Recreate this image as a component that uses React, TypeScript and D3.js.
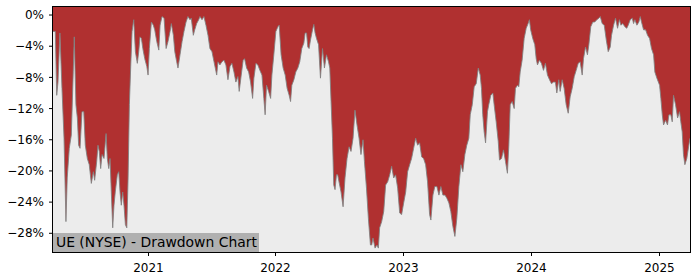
import React from "react";
import * as d3 from "d3";

// Dates as decimal years, drawdown in percent
const dates2020 = [
  2020.262, 2020.280, 2020.291, 2020.301, 2020.316, 2020.332, 2020.348, 2020.363, 2020.373, 2020.389,
  2020.405, 2020.420, 2020.428, 2020.441, 2020.452, 2020.462, 2020.473, 2020.488, 2020.502, 2020.514,
  2020.530, 2020.545, 2020.561, 2020.577, 2020.587, 2020.603, 2020.613, 2020.623, 2020.634, 2020.645,
  2020.660, 2020.676, 2020.686, 2020.697, 2020.707, 2020.717, 2020.728, 2020.738, 2020.748, 2020.764,
  2020.775, 2020.785, 2020.795, 2020.806, 2020.816, 2020.827, 2020.838, 2020.848, 2020.858, 2020.869,
  2020.879, 2020.892, 2020.905, 2020.920, 2020.931, 2020.941, 2020.952, 2020.963, 2020.978, 2020.994,
];
const dd2020 = [
  -2.1, -2.1, -10.3, -8.6, -2.3, -9.4, -15.8, -26.5, -20.9, -17.1,
  -15.4, -7.3, -2.8, -11.5, -13.2, -16.7, -17.1, -12.4, -12.4, -16.7,
  -18.4, -19.2, -21.6, -20.1, -21.2, -18.8, -16.7, -17.5, -19.7, -17.9,
  -18.4, -15.2, -18.4, -19.7, -18.4, -22.7, -27.3, -24.4, -22.7, -20.5,
  -20.1, -22.7, -24.4, -22.7, -24.4, -26.9, -27.3, -20.9, -11.5, -6.4,
  -2.1, -0.6, -4.7, -6.2, -4.7, -2.8, -3.0, -4.3, -5.6, -6.6,
];

const dates2021 = [
  2021.004, 2021.014, 2021.030, 2021.045, 2021.056, 2021.072, 2021.088, 2021.098, 2021.113, 2021.129,
  2021.145, 2021.160, 2021.176, 2021.186, 2021.202, 2021.213, 2021.228, 2021.238, 2021.254, 2021.270,
  2021.285, 2021.301, 2021.316, 2021.332, 2021.342, 2021.358, 2021.369, 2021.384, 2021.400, 2021.410,
  2021.426, 2021.441, 2021.457, 2021.473, 2021.488, 2021.504, 2021.520, 2021.530, 2021.541, 2021.551,
  2021.566, 2021.582, 2021.598, 2021.613, 2021.629, 2021.645, 2021.660, 2021.676, 2021.691, 2021.707,
  2021.717, 2021.733, 2021.748, 2021.759, 2021.775, 2021.791, 2021.806, 2021.822, 2021.832, 2021.848,
  2021.863, 2021.879, 2021.895, 2021.910, 2021.920, 2021.931, 2021.947, 2021.963, 2021.973, 2021.988,
];
const dd2021 = [
  -7.7, -4.3, -0.9, -1.3, -1.9, -3.4, -4.5, -1.3, -0.2, -0.4,
  -4.3, -3.4, -2.1, -1.1, -2.6, -4.7, -6.0, -6.8, -5.1, -3.4,
  -2.1, -0.9, -0.2, -0.6, -0.4, -2.6, -1.9, -1.1, -0.6, -0.2,
  -0.6, -0.2, -1.3, -2.6, -4.3, -4.7, -6.0, -6.8, -7.7, -6.0,
  -6.4, -6.0, -5.8, -6.4, -8.3, -6.6, -6.2, -7.3, -8.6, -7.9,
  -9.8, -7.7, -5.8, -5.6, -6.8, -7.3, -8.6, -10.7, -8.1, -6.2,
  -6.4, -7.1, -7.7, -10.7, -12.8, -9.0, -9.8, -10.7, -7.7, -5.1,
];

const dates2022 = [
  2022.004, 2022.020, 2022.030, 2022.045, 2022.061, 2022.077, 2022.092, 2022.108, 2022.119, 2022.129,
  2022.145, 2022.160, 2022.176, 2022.191, 2022.207, 2022.223, 2022.233, 2022.244, 2022.254, 2022.264,
  2022.275, 2022.291, 2022.301, 2022.311, 2022.322, 2022.338, 2022.353, 2022.369, 2022.384, 2022.400,
  2022.416, 2022.426, 2022.436, 2022.447, 2022.457, 2022.467, 2022.478, 2022.488, 2022.498, 2022.514,
  2022.530, 2022.545, 2022.561, 2022.577, 2022.592, 2022.608, 2022.623, 2022.639, 2022.655, 2022.670,
  2022.686, 2022.697, 2022.713, 2022.728, 2022.744, 2022.754, 2022.764, 2022.780, 2022.795, 2022.806,
  2022.816, 2022.832, 2022.848, 2022.863, 2022.879, 2022.895, 2022.910, 2022.926, 2022.941, 2022.957,
  2022.973, 2022.988,
];
const dd2022 = [
  -2.1, -1.5, -1.3, -5.1, -6.8, -7.7, -9.4, -10.3, -11.1, -9.0,
  -8.3, -7.3, -6.8, -6.0, -4.3, -3.6, -2.3, -2.3, -4.1, -4.3,
  -3.2, -1.9, -1.2, -2.3, -3.0, -3.8, -8.1, -4.3, -6.8, -5.1,
  -6.0, -6.8, -11.1, -15.8, -21.8, -22.4, -20.5, -20.5, -21.4, -22.7,
  -24.6, -20.9, -18.4, -16.9, -17.5, -15.8, -12.2, -14.1, -15.8, -17.9,
  -16.0, -18.8, -22.2, -26.1, -29.5, -29.5, -28.6, -29.9, -29.5, -29.9,
  -27.3, -26.5, -25.2, -21.8, -21.4, -20.5, -19.4, -20.9, -20.5, -22.2,
  -25.4, -25.6,
];

const dates2023 = [
  2023.004, 2023.020, 2023.035, 2023.051, 2023.066, 2023.082, 2023.098, 2023.113, 2023.129, 2023.145,
  2023.160, 2023.176, 2023.191, 2023.207, 2023.217, 2023.233, 2023.248, 2023.264, 2023.280, 2023.295,
  2023.311, 2023.327, 2023.342, 2023.358, 2023.373, 2023.389, 2023.405, 2023.420, 2023.436, 2023.452,
  2023.467, 2023.483, 2023.498, 2023.514, 2023.525, 2023.541, 2023.556, 2023.572, 2023.588, 2023.603,
  2023.613, 2023.623, 2023.634, 2023.645, 2023.660, 2023.670, 2023.686, 2023.702, 2023.712, 2023.728,
  2023.744, 2023.754, 2023.770, 2023.785, 2023.801, 2023.816, 2023.827, 2023.838, 2023.853, 2023.869,
  2023.879, 2023.895, 2023.905, 2023.916, 2023.931, 2023.947, 2023.963, 2023.978, 2023.988, 2023.998,
];
const dd2023 = [
  -24.1, -22.7, -20.1, -19.2, -18.4, -17.1, -15.8, -16.7, -16.4, -18.2,
  -18.4, -19.2, -21.4, -25.6, -26.3, -23.1, -22.0, -22.0, -23.1, -22.0,
  -23.1, -23.1, -23.5, -24.1, -25.2, -27.1, -28.4, -26.1, -22.0, -19.2,
  -20.1, -17.9, -16.7, -15.8, -12.8, -11.5, -9.2, -8.8, -6.8, -7.7,
  -9.4, -12.8, -15.0, -16.4, -12.4, -11.5, -10.3, -10.0, -11.5, -13.7,
  -16.2, -18.6, -18.4, -17.3, -18.8, -20.3, -16.7, -11.5, -11.1, -12.0,
  -9.4, -9.0, -9.2, -7.3, -5.8, -3.0, -1.7, -1.1, -0.6, -1.9,
];

const dates2024 = [
  2024.014, 2024.030, 2024.041, 2024.051, 2024.066, 2024.082, 2024.098, 2024.113, 2024.129, 2024.145,
  2024.160, 2024.176, 2024.191, 2024.202, 2024.217, 2024.228, 2024.244, 2024.259, 2024.275, 2024.291,
  2024.306, 2024.322, 2024.338, 2024.353, 2024.369, 2024.384, 2024.400, 2024.410, 2024.426, 2024.441,
  2024.452, 2024.467, 2024.483, 2024.498, 2024.514, 2024.530, 2024.541, 2024.556, 2024.572, 2024.588,
  2024.603, 2024.619, 2024.629, 2024.645, 2024.660, 2024.676, 2024.691, 2024.702, 2024.717, 2024.733,
  2024.748, 2024.759, 2024.775, 2024.791, 2024.801, 2024.811, 2024.827, 2024.842, 2024.853, 2024.863,
  2024.879, 2024.895, 2024.910, 2024.926, 2024.941, 2024.957, 2024.967, 2024.983,
];
const dd2024 = [
  -3.0, -3.8, -5.6, -6.4, -5.8, -6.2, -7.1, -6.2, -7.7, -8.3,
  -8.8, -8.6, -8.6, -10.0, -8.3, -9.8, -8.3, -9.4, -11.5, -12.6,
  -10.5, -9.4, -7.9, -7.1, -6.2, -6.0, -7.7, -5.6, -4.1, -5.1,
  -3.8, -1.5, -0.9, -0.9, -0.6, -0.4, -0.2, -1.1, -1.3, -3.2,
  -4.7, -4.1, -2.6, -1.3, -0.4, -1.7, -0.6, -1.3, -1.1, -1.5,
  -1.7, -1.3, -0.6, -0.4, -1.1, -0.6, -1.3, -0.9, -0.2, -0.9,
  -1.9, -1.9, -2.6, -3.0, -4.3, -5.1, -7.3, -8.1,
];

const dates2025 = [
  2025.004, 2025.014, 2025.025, 2025.035, 2025.051, 2025.066, 2025.077, 2025.092, 2025.103, 2025.113,
  2025.129, 2025.145, 2025.160, 2025.170, 2025.181, 2025.191, 2025.202, 2025.217, 2025.233, 2025.242,
];
const dd2025 = [
  -9.0, -10.7, -12.8, -14.1, -13.5, -14.1, -12.8, -12.8, -13.7, -10.3,
  -11.5, -13.2, -12.4, -13.7, -15.0, -17.9, -19.2, -18.4, -16.7, -15.8,
];

const yTickValues = [0, -4, -8, -12, -16, -20, -24, -28];
const xTickYears = [2021, 2022, 2023, 2024, 2025];
const chartLabel = "UE (NYSE) - Drawdown Chart";

function yearToDate(t: number): Date {
  const yr = Math.floor(t);
  const a = Date.UTC(yr, 0, 1);
  const b = Date.UTC(yr + 1, 0, 1);
  return new Date(a + (t - yr) * (b - a));
}

export default function App() {
  const W = 700;
  const H = 280;
  const left = 53;
  const right = 690;
  const top = 7;
  const bottom = 252;

  const allDates = [...dates2020, ...dates2021, ...dates2022, ...dates2023, ...dates2024, ...dates2025];
  const allDD = [...dd2020, ...dd2021, ...dd2022, ...dd2023, ...dd2024, ...dd2025];
  const n = Math.min(allDates.length, allDD.length);
  const points = allDates.slice(0, n).map((t, i) => ({ date: yearToDate(t), dd: allDD[i] }));

  const x = d3
    .scaleUtc()
    .domain(d3.extent(points, (d) => d.date) as [Date, Date])
    .range([left, right]);
  const y = d3.scaleLinear().domain([-30.4, 1.03]).range([bottom, top]);

  const area = d3
    .area<{ date: Date; dd: number }>()
    .x((d) => x(d.date))
    .y0(top)
    .y1((d) => y(d.dd));
  const line = d3
    .line<{ date: Date; dd: number }>()
    .x((d) => x(d.date))
    .y((d) => y(d.dd));

  const font = "DejaVu Sans, sans-serif";
  const fmt = (v: number) => (v === 0 ? "0%" : `\u2212${Math.abs(v)}%`);

  const labelW = 206;
  const labelH = 19;

  return (
    <svg
      width={W}
      height={H}
      viewBox={`0 0 ${W} ${H}`}
      style={{ position: "fixed", left: 0, top: 0, background: "#ffffff" }}
    >
      <rect x={0} y={0} width={W} height={H} fill="#ffffff" />
      <rect x={left} y={top} width={right - left} height={bottom - top} fill="#ececec" />
      <path d={area(points) || ""} fill="#b03030" stroke="none" />
      <path d={line(points) || ""} fill="none" stroke="#808080" strokeWidth={1} strokeOpacity={0.85} />

      <rect x={left} y={bottom - labelH} width={labelW} height={labelH} fill="#b0b0b0" />
      <text x={left + 3} y={bottom - 5.3} fontFamily={font} fontSize={13.9} fill="#000">
        {chartLabel}
      </text>

      <rect
        x={left - 0.5}
        y={top - 0.5}
        width={right - left + 1}
        height={bottom - top + 1}
        fill="none"
        stroke="#000"
        strokeWidth={1}
      />

      {yTickValues.map((v) => (
        <g key={`y${v}`}>
          <line x1={left - 4} x2={left - 0.5} y1={y(v)} y2={y(v)} stroke="#000" strokeWidth={1} />
          <text
            x={left - 9}
            y={y(v)}
            dy="0.35em"
            textAnchor="end"
            fontFamily={font}
            fontSize={12}
            fill="#000"
          >
            {fmt(v)}
          </text>
        </g>
      ))}

      {xTickYears.map((yr) => {
        const xv = Math.round(x(new Date(Date.UTC(yr, 0, 1)))) + 0.5;
        return (
          <g key={`x${yr}`}>
            <line x1={xv} x2={xv} y1={bottom + 0.5} y2={bottom + 4} stroke="#000" strokeWidth={1} />
            <text x={xv} y={bottom + 20} textAnchor="middle" fontFamily={font} fontSize={12} fill="#000">
              {yr}
            </text>
          </g>
        );
      })}
    </svg>
  );
}
